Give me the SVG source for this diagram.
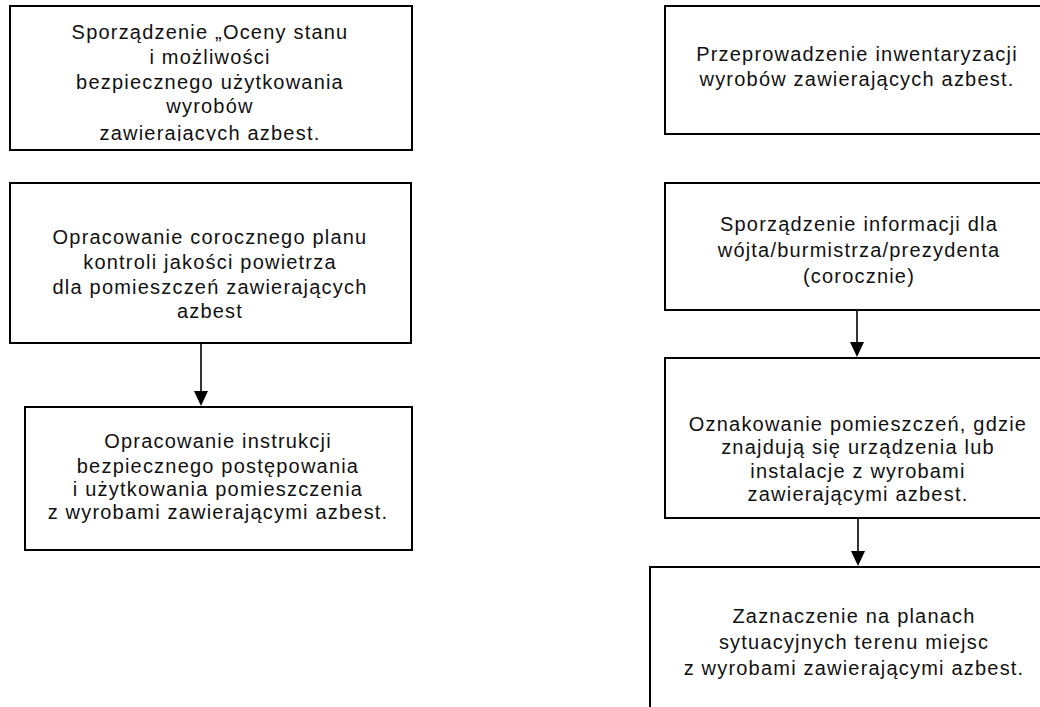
<svg xmlns="http://www.w3.org/2000/svg" width="1040" height="707" viewBox="0 0 1040 707">
<style>
.box{fill:#fff;stroke:#000;stroke-width:2}
.t{font-family:"Liberation Sans",Arial,sans-serif;font-size:20px;letter-spacing:1.2px;fill:#111;text-anchor:middle}
.c{stroke:#000;stroke-width:1.6;fill:none}
.ah{fill:#000}
</style>
<defs>
<clipPath id="clip1"><rect x="10" y="6" width="402" height="135"/></clipPath>
</defs>
<rect width="1040" height="707" fill="#fff"/>
<g id="n1">
<rect class="box" x="10" y="6" width="402" height="144"/>
<g clip-path="url(#clip1)">
<text class="t"><tspan x="210" y="39">Sporządzenie „Oceny stanu</tspan><tspan x="210" y="64">i możliwości</tspan><tspan x="210" y="89">bezpiecznego użytkowania</tspan><tspan x="210" y="113">wyrobów</tspan><tspan x="210" y="140">zawierających azbest.</tspan></text>
</g>
</g>
<g id="n2">
<rect class="box" x="10" y="183" width="401" height="160"/>
<text class="t"><tspan x="210" y="244">Opracowanie corocznego planu</tspan><tspan x="210" y="269">kontroli jakości powietrza</tspan><tspan x="210" y="294">dla pomieszczeń zawierających</tspan><tspan x="210" y="318">azbest</tspan></text>
</g>
<g id="n3">
<rect class="box" x="25" y="407" width="387" height="143"/>
<text class="t"><tspan x="218" y="448">Opracowanie instrukcji</tspan><tspan x="218" y="473">bezpiecznego postępowania</tspan><tspan x="218" y="496">i użytkowania pomieszczenia</tspan><tspan x="218" y="519">z wyrobami zawierającymi azbest.</tspan></text>
</g>
<g id="n4">
<rect class="box" x="665" y="6" width="390" height="128"/>
<text class="t"><tspan x="857" y="61">Przeprowadzenie inwentaryzacji</tspan><tspan x="857" y="86">wyrobów zawierających azbest.</tspan></text>
</g>
<g id="n5">
<rect class="box" x="665" y="183" width="390" height="127"/>
<text class="t"><tspan x="859" y="231">Sporządzenie informacji dla</tspan><tspan x="859" y="257">wójta/burmistrza/prezydenta</tspan><tspan x="859" y="283">(corocznie)</tspan></text>
</g>
<g id="n6">
<rect class="box" x="665" y="358" width="390" height="160"/>
<text class="t"><tspan x="858" y="431">Oznakowanie pomieszczeń, gdzie</tspan><tspan x="858" y="454">znajdują się urządzenia lub</tspan><tspan x="858" y="478">instalacje z wyrobami</tspan><tspan x="858" y="501">zawierającymi azbest.</tspan></text>
</g>
<g id="n7">
<rect class="box" x="650" y="567" width="400" height="160"/>
<text class="t"><tspan x="854" y="623">Zaznaczenie na planach</tspan><tspan x="854" y="649">sytuacyjnych terenu miejsc</tspan><tspan x="854" y="675">z wyrobami zawierającymi azbest.</tspan></text>
</g>
<g id="connectors">
<line class="c" x1="201" y1="343" x2="201" y2="392"/>
<path class="ah" d="M194,391 L208,391 L201,406 Z"/>
<line class="c" x1="857" y1="310" x2="857" y2="343"/>
<path class="ah" d="M850,342 L864,342 L857,357 Z"/>
<line class="c" x1="858" y1="518" x2="858" y2="552"/>
<path class="ah" d="M851,551 L865,551 L858,566 Z"/>
</g>
</svg>
